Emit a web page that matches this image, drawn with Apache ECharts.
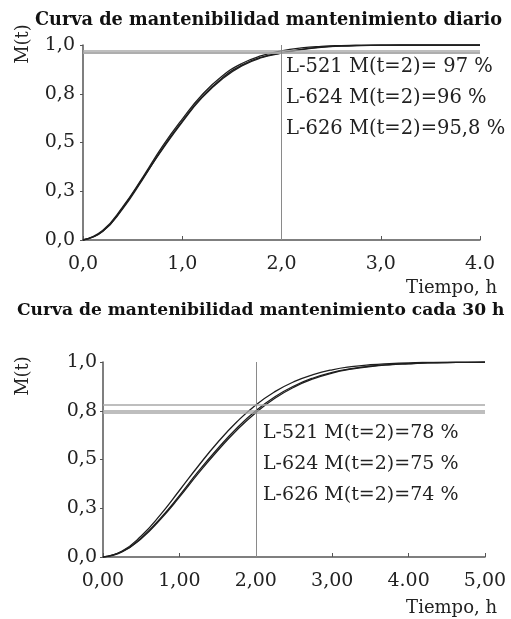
<!DOCTYPE html>
<html>
<head>
<meta charset="utf-8">
<script src="https://cdn.jsdelivr.net/npm/echarts@6/dist/echarts.min.js"></script>
<style>html,body{margin:0;padding:0;background:#fff;}#c{width:511px;height:619px;}</style>
</head>
<body>
<div id="c"></div>
<script>
// ---- data: top chart (mantenimiento diario) ----
var tTop = [0,0.2,0.4,0.6,0.8,1.0,1.2,1.4,1.6,1.8,2.0,2.2,2.4,2.6,2.8,3.0,3.2,3.4,3.6,3.8,4.0];
var top521 = [0,0.05,0.17,0.32,0.48,0.62,0.745,0.84,0.905,0.945,0.97,0.985,0.993,0.997,0.999,1.0,1.0,1.0,1.0,1.0,1.0];
var top624 = [0,0.045,0.16,0.31,0.47,0.61,0.735,0.83,0.897,0.938,0.96,0.978,0.989,0.995,0.998,0.999,1.0,1.0,1.0,1.0,1.0];
var top626 = [0,0.045,0.165,0.315,0.465,0.605,0.73,0.825,0.893,0.935,0.958,0.976,0.988,0.994,0.997,0.999,1.0,1.0,1.0,1.0,1.0];
var topRefLines = [0.97, 0.96, 0.958];
var topXLabels = ['0,0','1,0','2,0','3,0','4.0'];
var topNotes = ['L-521 M(t=2)= 97 %','L-624 M(t=2)=96 %','L-626 M(t=2)=95,8 %'];

// ---- data: bottom chart (mantenimiento cada 30 h) ----
var tBot = [0,0.25,0.5,0.75,1.0,1.25,1.5,1.75,2.0,2.25,2.5,2.75,3.0,3.25,3.5,3.75,4.0,4.25,4.5,4.75,5.0];
var bot521 = [0,0.031,0.108,0.216,0.341,0.468,0.587,0.692,0.78,0.848,0.899,0.935,0.96,0.976,0.986,0.992,0.996,0.998,0.999,0.999,1.0];
var bot624 = [0,0.028,0.098,0.198,0.315,0.44,0.555,0.66,0.75,0.822,0.877,0.918,0.947,0.966,0.979,0.987,0.992,0.995,0.997,0.998,0.999];
var bot626 = [0,0.026,0.094,0.192,0.307,0.43,0.545,0.65,0.74,0.814,0.871,0.913,0.943,0.963,0.977,0.986,0.991,0.995,0.997,0.998,0.999];
var botRefLines = [0.78, 0.75, 0.74];
var botXLabels = ['0,00','1,00','2,00','3,00','4.00','5,00'];
var botNotes = ['L-521 M(t=2)=78 %','L-624 M(t=2)=75 %','L-626 M(t=2)=74 %'];

var yLabel = function (v) { return v.toFixed(1).replace('.', ','); };
var SERIF = '"DejaVu Serif", "Liberation Serif", serif';

function pairs(t, m) { return t.map(function (x, i) { return [x, m[i]]; }); }

function refLines(vals) {
  var d = vals.map(function (v) { return { yAxis: v, lineStyle: { color: '#a9a9a9', width: 1.6, type: 'solid' } }; });
  d.push({ xAxis: 2, lineStyle: { color: '#8a8a8a', width: 1, type: 'solid' } });
  return d;
}

function curve(name, t, m, gi, withRefs, refs) {
  var s = {
    name: name, type: 'line', xAxisIndex: gi, yAxisIndex: gi,
    data: pairs(t, m), smooth: true, showSymbol: false, symbol: 'none',
    lineStyle: { color: '#1e1e1e', width: 1.3 }, animation: false, silent: true
  };
  if (withRefs) {
    s.markLine = { silent: true, symbol: ['none', 'none'], label: { show: false }, animation: false, data: refLines(refs) };
  }
  return s;
}

function xAxisCfg(gi, max, labels) {
  return {
    type: 'value', gridIndex: gi, min: 0, max: max, interval: 1,
    axisLine: { show: true, lineStyle: { color: '#555', width: 1.5 } },
    axisTick: { show: true, inside: true, length: 4, lineStyle: { color: '#555' } },
    splitLine: { show: false },
    axisLabel: { margin: 15, color: '#222', fontFamily: SERIF, fontSize: 19,
      formatter: function (v) { return labels[Math.round(v)]; } }
  };
}
function yAxisCfg(gi, margin) {
  return {
    type: 'value', gridIndex: gi, min: 0, max: 1, interval: 0.25,
    axisLine: { show: true, lineStyle: { color: '#555', width: 1.5 } },
    axisTick: { show: true, length: 3, lineStyle: { color: '#555' } },
    splitLine: { show: false },
    axisLabel: { margin: margin, color: '#222', fontFamily: SERIF, fontSize: 19, formatter: yLabel }
  };
}

function noteTexts(notes, x, y0, dy, size) {
  return notes.map(function (s, i) {
    return { type: 'text', x: x, y: y0 + i * dy, style: { text: s, fill: '#222', font: size + 'px ' + SERIF, verticalAlign: 'middle' } };
  });
}

var chart = echarts.init(document.getElementById('c'), null, { renderer: 'canvas' });
chart.setOption({
  backgroundColor: '#fff',
  animation: false,
  title: [
    { text: 'Curva de mantenibilidad mantenimiento diario', left: 30, top: 6,
      textStyle: { fontFamily: SERIF, fontWeight: 'bold', fontSize: 17.7, color: '#111' } },
    { text: 'Curva de mantenibilidad mantenimiento cada 30 h', left: 12, top: 297,
      textStyle: { fontFamily: SERIF, fontWeight: 'bold', fontSize: 17.1, color: '#111' } }
  ],
  grid: [
    { left: 83, top: 45, width: 397, height: 195 },
    { left: 103, top: 362, width: 382, height: 195 }
  ],
  xAxis: [xAxisCfg(0, 4, topXLabels), xAxisCfg(1, 5, botXLabels)],
  yAxis: [yAxisCfg(0, 8), yAxisCfg(1, 6)],
  series: [
    curve('L-521', tTop, top521, 0, true, topRefLines),
    curve('L-624', tTop, top624, 0, false),
    curve('L-626', tTop, top626, 0, false),
    curve('L-521', tBot, bot521, 1, true, botRefLines),
    curve('L-624', tBot, bot624, 1, false),
    curve('L-626', tBot, bot626, 1, false)
  ],
  graphic: [].concat(
    noteTexts(topNotes, 286, 67, 31, 19.5),
    noteTexts(botNotes, 263, 433, 31, 19),
    [
      { type: 'text', x: 23, y: 44, rotation: Math.PI / 2, style: { text: 'M(t)', fill: '#222', font: '18px ' + SERIF, align: 'center', verticalAlign: 'middle' } },
      { type: 'text', x: 23, y: 376, rotation: Math.PI / 2, style: { text: 'M(t)', fill: '#222', font: '18px ' + SERIF, align: 'center', verticalAlign: 'middle' } },
      { type: 'text', x: 497, y: 288, style: { text: 'Tiempo, h', fill: '#222', font: '18px ' + SERIF, align: 'right', verticalAlign: 'middle' } },
      { type: 'text', x: 497, y: 608, style: { text: 'Tiempo, h', fill: '#222', font: '18px ' + SERIF, align: 'right', verticalAlign: 'middle' } }
    ]
  )
});
</script>
</body>
</html>
